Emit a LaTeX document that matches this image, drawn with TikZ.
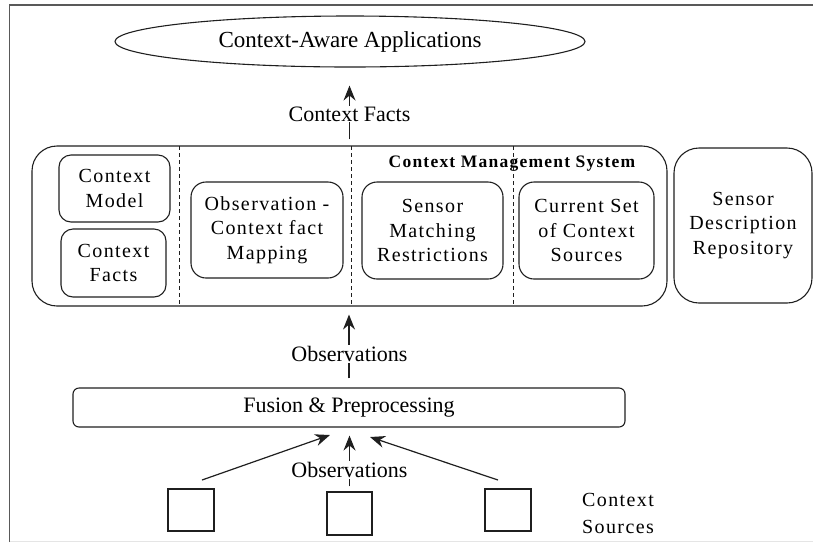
\documentclass[tikz,border=0pt]{standalone}
\usepackage{fontspec}
\setmainfont{Liberation Serif}
\newfontfamily\spaced[LetterSpace=7]{Liberation Serif}
\usetikzlibrary{shapes.geometric,arrows.meta}

\tikzset{
  ink/.style={draw=black!88, line width=1.1pt},
  rbox/.style={ink, rectangle, rounded corners=#1, align=center, inner sep=0pt,
               font=\spaced\fontsize{20}{24.5}\selectfont},
  lab/.style={fill=white, inner sep=1pt, font=\fontsize{22}{26}\selectfont},
  arr/.style={ink, line width=1.2pt, -{Stealth[length=15pt,width=12pt,inset=5pt]}},
  divider/.style={draw=black!88, line width=1pt, dash pattern=on 4pt off 3pt},
  srcbox/.style={ink, rectangle, minimum width=46pt, minimum height=42pt, inner sep=0pt}
}

\begin{document}
\begin{tikzpicture}[x=1pt, y=-1pt]
  \useasboundingbox (0,0) rectangle (813,542);

  % page frame
  \draw[black!65, line width=1.5pt] (9.5,542) -- (9.5,5) -- (813,5);
  \draw[black!10, line width=1pt] (9.5,541) -- (813,541);

  % applications layer
  \node[ink, ellipse, minimum width=470pt, minimum height=51pt, inner sep=0pt,
        font=\fontsize{23}{27}\selectfont] (app) at (350,41.5) {Context-Aware Applications};

  % context management system
  \node[rbox=25pt, minimum width=635pt, minimum height=160pt] (cms) at (349.5,226) {};
  \node[font=\spaced\bfseries\fontsize{17.5}{21}\selectfont, inner sep=0pt] (cmstitle) at (512,164) {Context Management System};
  \draw[divider] (179,146) -- (179,306);
  \draw[divider] (351,146) -- (351,306);
  \draw[divider] (513,146) -- (513,306);

  \node[rbox=12pt, minimum width=111pt, minimum height=67pt] (model) at (114.5,188.5) {Context\\Model};
  \node[rbox=12pt, minimum width=105pt, minimum height=68pt] (facts) at (113.5,263) {Context\\Facts};
  \node[rbox=15pt, minimum width=152pt, minimum height=96pt] (mapping) at (267,230) {Observation -\\Context fact\\Mapping};
  \node[rbox=15pt, minimum width=141pt, minimum height=97pt] (match) at (432.5,230.5) {Sensor\\Matching\\Restrictions};
  \node[rbox=15pt, minimum width=135pt, minimum height=97pt] (current) at (586.5,230.5) {Current Set\\of Context\\Sources};

  % repository
  \node[rbox=25pt, minimum width=138pt, minimum height=155pt] (repo) at (743,225.5) {Sensor\\Description\\Repository};

  % fusion layer
  \node[rbox=6pt, minimum width=552pt, minimum height=39pt,
        font=\fontsize{22}{26}\selectfont] (fusion) at (349,407.5) {Fusion \& Preprocessing};

  % context sources
  \node[srcbox] (srcA) at (191,510) {};
  \node[srcbox, minimum width=45pt, minimum height=43pt] (srcB) at (349.5,513.5) {};
  \node[srcbox] (srcC) at (508,510) {};
  \node[font=\spaced\fontsize{20}{27}\selectfont, align=left, inner sep=0pt] (srclabel) at (618,513.5) {Context\\Sources};

  % free ends of the slanted source arrows
  \coordinate (aStart) at (202,480);
  \coordinate (aTip) at (330,435);
  \coordinate (cStart) at (498,480);
  \coordinate (cTip) at (370,437);

  % flows
  \draw[arr, shorten <=6pt, shorten >=18pt] (cms.north) -- (cms.north |- app.south);
  \node[lab] (lblfacts) at (349.5,114) {Context Facts};
  \draw[arr, shorten <=9pt, shorten >=8pt] (fusion.north) -- (fusion.north |- cms.south);
  \node[lab] (lblobs) at (349.5,354) {Observations};
  \draw[arr, shorten <=5pt, shorten >=8pt] (srcB.north) -- (srcB.north |- fusion.south);
  \node[lab] (lblobs2) at (349.5,470) {Observations};
  \draw[arr] (aStart) -- (aTip);
  \draw[arr] (cStart) -- (cTip);
\end{tikzpicture}
\end{document}
